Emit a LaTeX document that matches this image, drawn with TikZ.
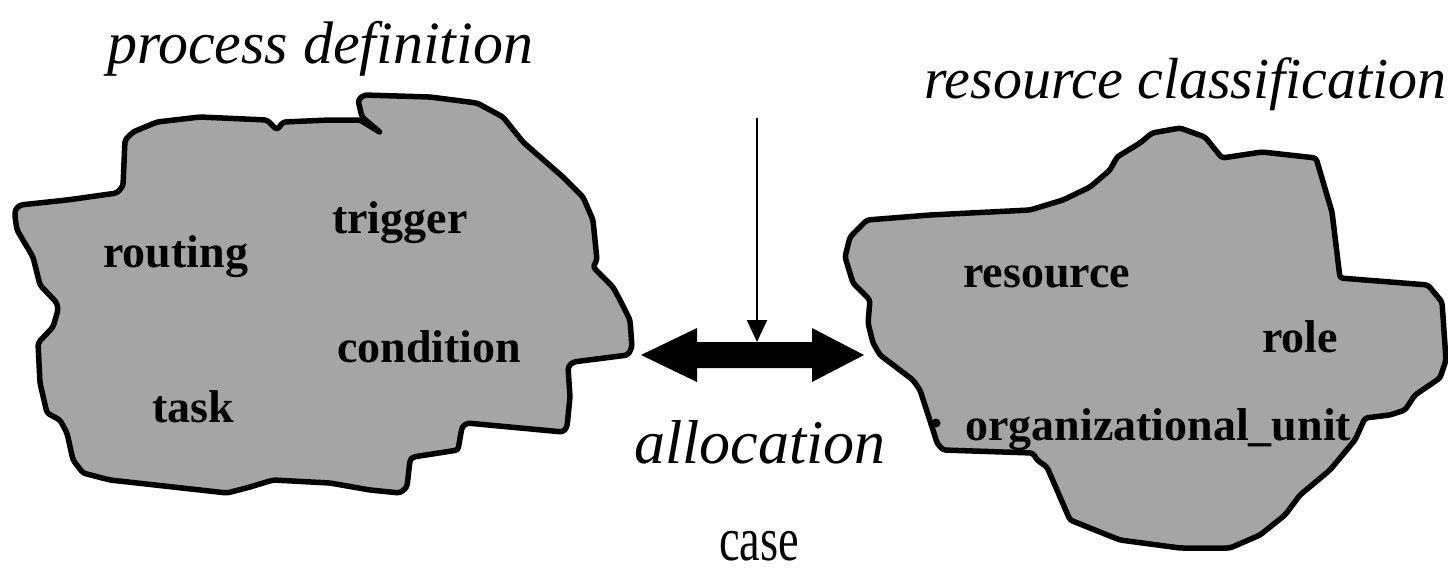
\documentclass[tikz,border=0pt]{standalone}
\usepackage{fontspec}
\usepackage{graphicx}
\setmainfont{Liberation Serif}
\usetikzlibrary{arrows.meta}
\definecolor{blobgray}{RGB}{165,165,165}
\begin{document}
\begin{tikzpicture}[x=1pt,y=-1pt,
  blob/.style={draw=black,fill=blobgray,line width=5.5pt,line join=round,rounded corners=3pt},
  term/.style={font=\fontsize{46}{50}\selectfont\bfseries,inner sep=0pt,anchor=base west},
  title/.style={font=\fontsize{60}{64}\selectfont\itshape,inner sep=0pt,anchor=base west},
  plain/.style={font=\fontsize{62}{64}\selectfont,inner sep=0pt,anchor=base west},
  bigarrow/.style={fill=black},
  pointer/.style={line width=2pt,-{Triangle[length=22pt,width=20pt]}}
]
\useasboundingbox (0,0) rectangle (1448,576);

% process definition blob
\draw[blob] (15,210) -- (20,205) -- (67,200) -- (117,193) -- (123,186) -- (125,140) -- (133,132)
  -- (157,122) -- (200,117) -- (267,120) -- (277,130) -- (283,122) -- (330,120) -- (360,120)
  -- (381,133) -- (362,117) -- (358,100) -- (364,95) -- (430,97) -- (477,103) -- (503,117)
  -- (523,142) -- (563,177) -- (583,197) -- (593,220) -- (597,260) -- (593,267) -- (613,287)
  -- (620,300) -- (630,320) -- (632,347) -- (628,355) -- (573,362) -- (568,367) -- (570,397)
  -- (567,427) -- (563,432) -- (467,423) -- (462,427) -- (458,450) -- (413,457) -- (410,460)
  -- (407,487) -- (400,493) -- (370,490) -- (330,483) -- (273,480) -- (250,487) -- (227,493)
  -- (200,490) -- (110,480) -- (83,473) -- (73,460) -- (67,433) -- (60,420) -- (47,413)
  -- (40,383) -- (38,343) -- (53,327) -- (58,310) -- (57,303) -- (40,285) -- (33,257)
  -- (17,230) -- (15,217) -- cycle;

% resource classification blob
\draw[blob] (845,257) -- (850,237) -- (867,220) -- (930,215) -- (1030,210) -- (1063,200)
  -- (1090,187) -- (1110,170) -- (1117,157) -- (1140,143) -- (1152,133) -- (1180,128)
  -- (1205,137) -- (1222,158) -- (1262,152) -- (1316,158) -- (1332,212) -- (1340,278)
  -- (1428,285) -- (1442,302) -- (1446,360) -- (1440,378) -- (1415,395) -- (1405,410)
  -- (1390,415) -- (1365,418) -- (1355,440) -- (1345,452) -- (1330,470) -- (1300,495)
  -- (1285,515) -- (1260,535) -- (1230,548) -- (1180,548) -- (1120,540) -- (1070,520)
  -- (1047,467) -- (1037,460) -- (1033,453) -- (943,450) -- (937,443) -- (933,430)
  -- (920,390) -- (913,380) -- (880,355) -- (873,343) -- (868,323) -- (870,300)
  -- (853,283) -- cycle;
\fill (936,423) circle (4.5);

% terms
\node[term] (routing) at (103,267) {routing};
\node[term] (trigger) at (332,233) {trigger};
\node[term] (condition) at (337,362) {condition};
\node[term] (task) at (152,422) {task};
\node[term] (resource) at (963,287) {resource};
\node[term] (role) at (1262,352) {role};
\node[term] (orgunit) at (965,440) {organizational\_unit};

% titles
\node[title] (procdef) at (107,63) {process definition};
\node[title,font=\fontsize{58}{62}\selectfont\itshape,anchor=base east] (resclass) at (1447,98) {resource classification};
\node[title,font=\fontsize{62}{66}\selectfont\itshape] (allocation) at (634,463) {allocation};
\node[plain] (case) at (719,560) {\scalebox{0.75}[1]{case}};

% double arrow
\coordinate (shafttop) at (757,342);
\coordinate (casein) at (757,118);
\fill[bigarrow] (641,355) -- (697,328) -- (697,342) -- (812,342) -- (812,328) -- (864,355)
  -- (812,382) -- (812,368) -- (697,368) -- (697,382) -- cycle;
\draw[pointer] (casein) -- (shafttop);
\end{tikzpicture}
\end{document}
